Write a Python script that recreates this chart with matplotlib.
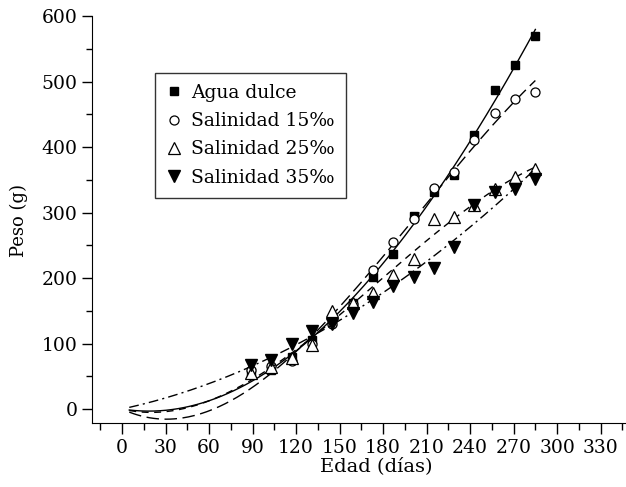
import numpy as np
import matplotlib
matplotlib.use('Agg')
import matplotlib.pyplot as plt

plt.rcParams['font.family'] = ['DejaVu Serif']

# edad (dias) de los muestreos
edad = [89, 103, 117, 131, 145, 159, 173, 187, 201, 215, 229, 243, 257, 271, 285]

# peso (g) por tratamiento
agua_dulce = [57, 60, 80, 105, 133, 162, 202, 237, 294, 332, 358, 418, 487, 525, 570]
sal_15 = [60, 65, 73, 100, 130, 160, 212, 255, 290, 338, 362, 411, 452, 473, 484]
sal_25 = [55, 64, 78, 98, 150, 162, 177, 205, 229, 290, 293, 311, 336, 354, 366]
sal_35 = [67, 75, 99, 119, 130, 146, 163, 188, 202, 215, 248, 311, 332, 336, 351]

labels = ['Agua dulce', 'Salinidad 15‰', 'Salinidad 25‰', 'Salinidad 35‰']
x_ticks = [0, 30, 60, 90, 120, 150, 180, 210, 240, 270, 300, 330]
y_ticks = [0, 100, 200, 300, 400, 500, 600]

fig = plt.figure(figsize=(6.26, 4.87), dpi=100)
ax = fig.add_axes([92 / 626, 1 - 422.7 / 487, 534 / 626, (422.7 - 16) / 487])

series = [agua_dulce, sal_15, sal_25, sal_35]
markers = [dict(marker='s', mfc='black', mec='black', ms=5.5),
           dict(marker='o', mfc='white', mec='black', ms=6.5, mew=0.9),
           dict(marker='^', mfc='white', mec='black', ms=8.5, mew=0.9),
           dict(marker='v', mfc='black', mec='black', ms=8.5)]
styles = ['-', (0, (9, 4)), (0, (5, 4)), (0, (7, 3, 1.5, 3))]

# curva de ajuste cubica sin termino independiente
ex = np.array(edad, dtype=float)
A = np.column_stack([ex, ex ** 2, ex ** 3])
xs = np.linspace(5, 285, 200)
handles = []
for y, mk, ls, lab in zip(series, markers, styles, labels):
    coef, *_ = np.linalg.lstsq(A, np.array(y, dtype=float), rcond=None)
    ys = coef[0] * xs + coef[1] * xs ** 2 + coef[2] * xs ** 3
    ax.plot(xs, ys, color='black', lw=1.0, linestyle=ls)
    h, = ax.plot(edad, y, linestyle='none', label=lab, **mk)
    handles.append(h)

ax.set_xlim(-20.7, 347.5)
ax.set_ylim(-20.9, 600)
ax.set_xticks(x_ticks)
ax.set_yticks(y_ticks)
ax.set_xticks(np.arange(-15, 350, 30), minor=True)
ax.set_yticks(np.arange(50, 600, 100), minor=True)
ax.tick_params(axis='both', labelsize=13.5, direction='out', width=1)
ax.tick_params(axis='x', which='major', length=8)
ax.tick_params(axis='x', which='minor', length=5, width=1)
ax.tick_params(axis='y', which='major', length=7)
ax.tick_params(axis='y', which='minor', length=4, width=1)
for s in ['top', 'right']:
    ax.spines[s].set_visible(False)

ax.set_xlabel('Edad (días)', fontsize=14)
ax.set_ylabel('Peso (g)', fontsize=13)
ax.xaxis.set_label_coords(0.532, -0.085)
ax.yaxis.set_label_coords(-0.12, 0.496)

leg = ax.legend(handles=handles, loc='upper left', bbox_to_anchor=(0.118, 0.861),
                borderaxespad=0, fontsize=13.5, frameon=True, fancybox=False,
                edgecolor='black', handlelength=0.8, handletextpad=0.5,
                borderpad=0.6, labelspacing=0.55)
leg.get_frame().set_linewidth(1.0)

fig.savefig('out.png', dpi=100)
